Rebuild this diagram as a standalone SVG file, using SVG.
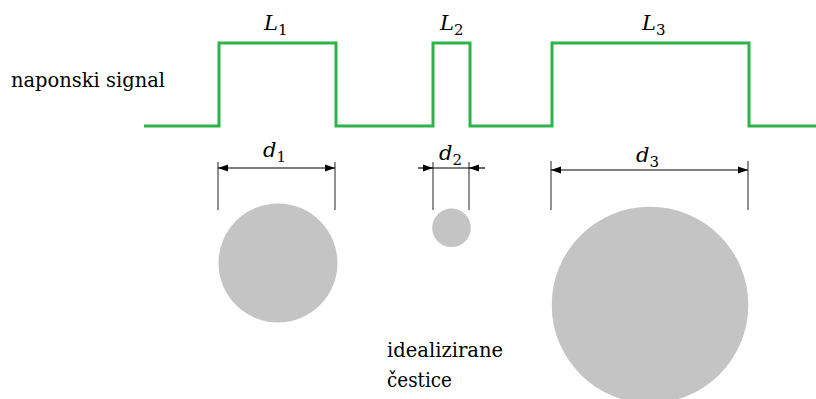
<svg xmlns="http://www.w3.org/2000/svg" width="816" height="399" viewBox="0 0 816 399">
<defs>
<style>
text{font-family:"DejaVu Serif","Liberation Serif",serif;fill:#000}
.lab{font-size:21px;font-style:italic}
.sub{font-size:15px;font-style:normal}
.ext{stroke:#555;stroke-width:1.3;fill:none}
.dim{stroke:#000;stroke-width:1.2;fill:none}
.p{fill:#c4c4c4}
</style>
<marker id="ah" viewBox="0 0 10 10" refX="10" refY="5" markerWidth="10" markerHeight="10" markerUnits="userSpaceOnUse" orient="auto-start-reverse">
<path d="M0,1.5 L10,5 L0,8.5 Z" fill="#000"/>
</marker>
</defs>
<rect width="816" height="399" fill="#fff"/>
<g id="signal">
<polyline points="144,126 219,126 219,43 336,43 336,126 433,126 433,43 470,43 470,126 552,126 552,43 749,43 749,126 816,126" fill="none" stroke="#2db34a" stroke-width="3"/>
<text x="11" y="87" font-size="20" textLength="154" lengthAdjust="spacingAndGlyphs">naponski signal</text>
<text class="lab" x="264" y="30">L<tspan class="sub" dy="5">1</tspan></text>
<text class="lab" x="440" y="30">L<tspan class="sub" dy="5">2</tspan></text>
<text class="lab" x="642" y="30">L<tspan class="sub" dy="5">3</tspan></text>
</g>
<g id="connectors">
<line class="ext" x1="218" y1="162" x2="218" y2="210"/>
<line class="ext" x1="335" y1="162" x2="335" y2="210"/>
<line class="dim" x1="218" y1="168" x2="335" y2="168" marker-start="url(#ah)" marker-end="url(#ah)"/>
<line class="ext" x1="433" y1="162" x2="433" y2="210"/>
<line class="ext" x1="469" y1="162" x2="469" y2="210"/>
<line class="dim" x1="418" y1="168" x2="433" y2="168" marker-end="url(#ah)"/>
<line class="dim" x1="433" y1="168" x2="469" y2="168"/>
<line class="dim" x1="485" y1="168" x2="469" y2="168" marker-end="url(#ah)"/>
<line class="ext" x1="551" y1="161" x2="551" y2="210"/>
<line class="ext" x1="748" y1="161" x2="748" y2="210"/>
<line class="dim" x1="551" y1="170" x2="748" y2="170" marker-start="url(#ah)" marker-end="url(#ah)"/>
</g>
<g id="d1"><text class="lab" x="263" y="157">d<tspan class="sub" dy="5">1</tspan></text></g>
<g id="d2"><text class="lab" x="439" y="160">d<tspan class="sub" dy="5">2</tspan></text></g>
<g id="d3"><text class="lab" x="636" y="162">d<tspan class="sub" dy="5">3</tspan></text></g>
<g id="particle1"><circle class="p" cx="278" cy="263" r="59.5"/></g>
<g id="particle2"><circle class="p" cx="451.5" cy="227.8" r="19.3"/></g>
<g id="particle3"><circle class="p" cx="650" cy="305" r="98.3"/></g>
<g id="caption">
<text x="387" y="357" font-size="20" textLength="116" lengthAdjust="spacingAndGlyphs">idealizirane</text>
<text x="387" y="387" font-size="20" textLength="65" lengthAdjust="spacingAndGlyphs">čestice</text>
</g>
</svg>
